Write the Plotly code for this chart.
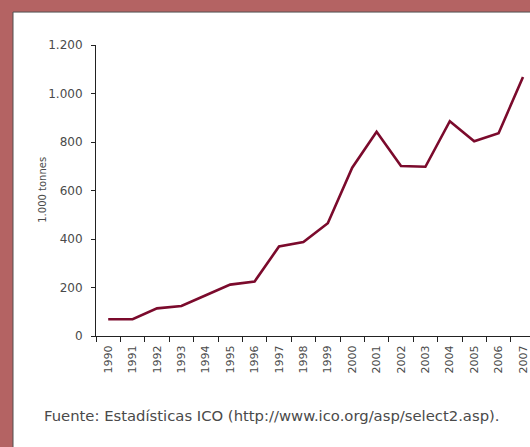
import plotly.graph_objects as go

years = [str(y) for y in range(1990, 2008)]
values = [69, 69, 114, 124, 168, 212, 225, 369, 387, 465, 694, 842, 701, 698, 886, 803, 836, 1068]
y_ticks = [0, 200, 400, 600, 800, 1000, 1200]

W, H = 530, 447
L, R, T, B = 96, 0, 45, 110.5
pw = W - L - R
ph = H - T - B
step = 24.4

def px_to_paper_x(px):
    return (px - L) / pw

def px_to_paper_y(py):
    return (H - B - py) / ph

font_family = "DejaVu Sans"
txt_col = "#4a4a4a"

fig = go.Figure()
fig.add_trace(go.Scatter(
    x=years, y=values, mode="lines",
    line=dict(color="#7B0A2C", width=2.6),
    hoverinfo="skip", showlegend=False,
))

fig.update_layout(
    width=W, height=H,
    margin=dict(l=L, r=R, t=T, b=B, pad=0),
    paper_bgcolor="#B46363",
    plot_bgcolor="rgba(0,0,0,0)",
    separators=",.",
    font=dict(family=font_family, color=txt_col, size=12),
    showlegend=False,
    xaxis=dict(
        type="category",
        range=[-0.5, -0.5 + pw / step],
        tickson="boundaries",
        ticks="outside", ticklen=5, tickcolor="#222", tickwidth=1,
        showline=True, linecolor="#222", linewidth=1,
        showgrid=False, zeroline=False,
        tickangle=-90,
        tickfont=dict(size=11, color=txt_col),
        ticklabelstandoff=4,
    ),
    yaxis=dict(
        range=[0, 1200],
        tickvals=y_ticks,
        tickformat=",d",
        ticks="outside", ticklen=4, tickcolor="#222", tickwidth=1,
        showline=True, linecolor="#222", linewidth=1,
        showgrid=False, zeroline=False,
        tickfont=dict(size=12, color=txt_col),
        ticklabelstandoff=6,
    ),
    shapes=[
        dict(type="rect", xref="paper", yref="paper", layer="below",
             x0=px_to_paper_x(13), x1=px_to_paper_x(W + 20),
             y0=px_to_paper_y(H + 20), y1=px_to_paper_y(12),
             fillcolor="white", line=dict(color="#505050", width=1)),
    ],
    annotations=[
        dict(text="1.000 tonnes", xref="paper", yref="paper",
             x=px_to_paper_x(43), y=px_to_paper_y(190),
             textangle=-90, showarrow=False,
             font=dict(size=10, color=txt_col),
             xanchor="center", yanchor="middle"),
        dict(text="Fuente: Estadísticas ICO (http://www.ico.org/asp/select2.asp).",
             xref="paper", yref="paper",
             x=px_to_paper_x(272), y=px_to_paper_y(416),
             showarrow=False, font=dict(size=14.8, color=txt_col),
             xanchor="center", yanchor="middle"),
    ],
)

fig.write_html(
    "out.html",
    config=dict(displayModeBar=False),
    post_script="document.body.style.margin='0';document.body.style.overflow='hidden';",
)
